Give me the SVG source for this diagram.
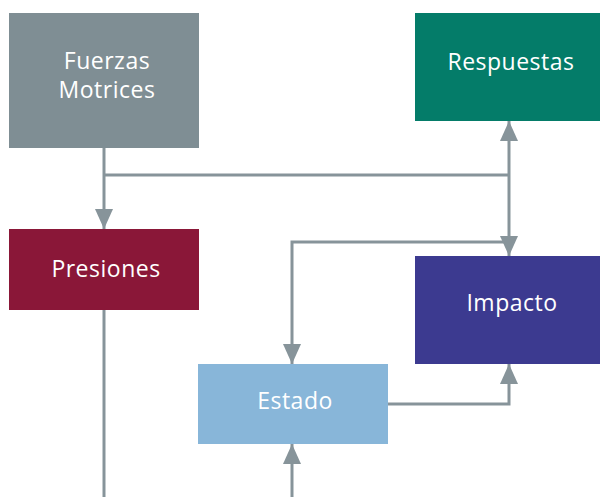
<svg xmlns="http://www.w3.org/2000/svg" width="600" height="497" viewBox="0 0 600 497">
<style>
.lbl{font-family:"Open Sans","Lato",sans-serif;font-size:23px;font-weight:400;letter-spacing:0.5px;fill:#ffffff;text-anchor:middle}
.ln{fill:none;stroke:#87949a;stroke-width:3}
</style>
<defs>
<marker id="ah" viewBox="0 0 20 20" refX="20" refY="10" markerWidth="20" markerHeight="20" markerUnits="userSpaceOnUse" orient="auto">
<path d="M0,1 L20,10 L0,19 Z" fill="#87949a"/>
</marker>
</defs>
<rect width="600" height="497" fill="#ffffff"/>
<g id="connectors">
<path class="ln" d="M104,148 V229" marker-end="url(#ah)"/>
<path class="ln" d="M104,175 H509"/>
<path class="ln" d="M509,175 V121" marker-end="url(#ah)"/>
<path class="ln" d="M509,175 V256" marker-end="url(#ah)"/>
<path class="ln" d="M509,242 H292 V364" marker-end="url(#ah)"/>
<path class="ln" d="M388,404 H509 V364" marker-end="url(#ah)"/>
<path class="ln" d="M292,497 V444" marker-end="url(#ah)"/>
<path class="ln" d="M104,310 V497"/>
</g>
<g id="fuerzas">
<rect x="9" y="13" width="190" height="135" fill="#7f8e94"/>
<text class="lbl" x="107" y="69">Fuerzas</text>
<text class="lbl" x="107" y="98">Motrices</text>
</g>
<g id="respuestas">
<rect x="415" y="13" width="185" height="108" fill="#047c69"/>
<text class="lbl" x="511" y="70">Respuestas</text>
</g>
<g id="presiones">
<rect x="9" y="229" width="190" height="81" fill="#8a1738"/>
<text class="lbl" x="106" y="277">Presiones</text>
</g>
<g id="impacto">
<rect x="415" y="256" width="185" height="108" fill="#3c3a90"/>
<text class="lbl" x="512" y="311">Impacto</text>
</g>
<g id="estado">
<rect x="198" y="364" width="190" height="80" fill="#88b6d9"/>
<text class="lbl" x="295" y="409">Estado</text>
</g>
</svg>
